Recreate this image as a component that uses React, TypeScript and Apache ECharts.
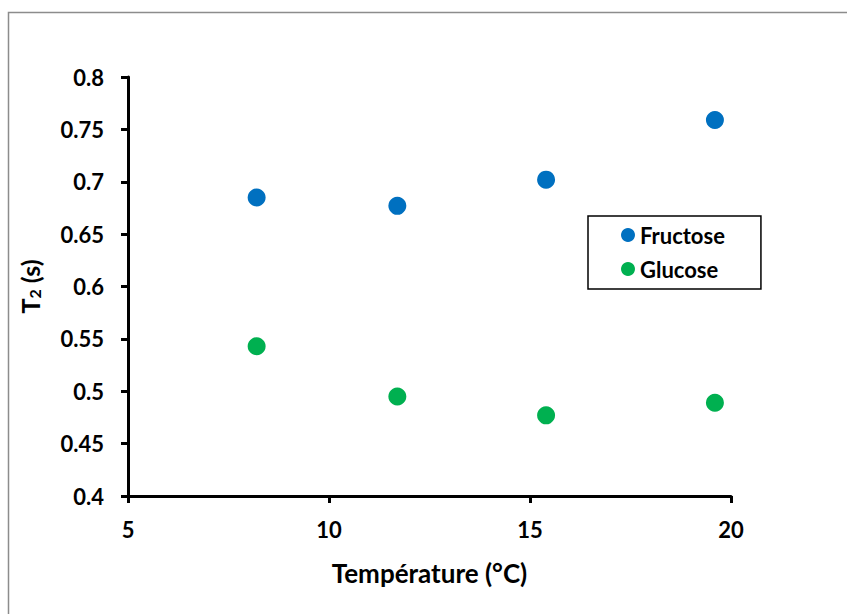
import React, { useEffect, useRef } from "react";
import * as echarts from "echarts";

const temperatures = [8.2, 11.7, 15.4, 19.6];
const fructoseT2 = [0.685, 0.677, 0.702, 0.759];
const glucoseT2 = [0.543, 0.495, 0.477, 0.489];
const seriesNames = ["Fructose", "Glucose"];
const seriesColors = ["#0070C0", "#00B050"];

const FONT = "Lato, 'Noto Sans', sans-serif";

export default function App() {
  const ref = useRef<HTMLDivElement>(null);
  useEffect(() => {
    if (!ref.current) return;
    const chart = echarts.init(ref.current, null, { renderer: "svg" });
    const mk = (vals: number[]) => temperatures.map((t, i) => [t, vals[i]]);
    chart.setOption({
      animation: false,
      backgroundColor: "#ffffff",
      textStyle: { fontFamily: FONT },
      grid: { left: 128, top: 77, width: 603, height: 419, containLabel: false },
      graphic: [
        {
          type: "rect",
          shape: { x: 8.5, y: 12.5, width: 900, height: 700 },
          style: { fill: "none", stroke: "#8c8c8c", lineWidth: 1.5 },
          silent: true,
        },
      ],
      legend: {
        left: 588,
        top: 216,
        orient: "vertical",
        itemGap: 12,
        padding: [8, 36, 9, 33],
        borderColor: "#000",
        borderWidth: 1.5,
        icon: "circle",
        itemWidth: 14,
        itemHeight: 14,
        textStyle: { fontFamily: FONT, fontWeight: "bold", fontSize: 22, color: "#000" },
        data: seriesNames,
      },
      xAxis: {
        type: "value",
        min: 5,
        max: 20,
        interval: 5,
        name: "Température (°C)",
        nameLocation: "middle",
        nameGap: 64,
        nameTextStyle: { fontFamily: FONT, fontWeight: "bold", fontSize: 26, color: "#000" },
        axisLine: { show: true, lineStyle: { color: "#000", width: 3 } },
        axisTick: { show: true, inside: false, length: 7, lineStyle: { color: "#000", width: 3 } },
        axisLabel: { fontFamily: FONT, fontWeight: "bold", fontSize: 22, color: "#000", margin: 22 },
        splitLine: { show: false },
      },
      yAxis: {
        type: "value",
        min: 0.4,
        max: 0.8,
        interval: 0.05,
        name: "{t|T}{s|2}{t| (s)}",
        nameLocation: "middle",
        nameGap: 86,
        nameRotate: 90,
        nameTextStyle: {
          rich: {
            t: { fontFamily: FONT, fontWeight: "bold", fontSize: 25, color: "#000" },
            s: { fontFamily: FONT, fontWeight: "bold", fontSize: 16, color: "#000", padding: [9, 0, 0, 0] },
          },
        },
        axisLine: { show: true, lineStyle: { color: "#000", width: 3 } },
        axisTick: { show: true, inside: false, length: 7, lineStyle: { color: "#000", width: 3 } },
        axisLabel: {
          fontFamily: FONT,
          fontWeight: "bold",
          fontSize: 22,
          color: "#000",
          margin: 24,
          formatter: (v: number) => String(parseFloat(v.toFixed(2))),
        },
        splitLine: { show: false },
      },
      series: [
        {
          name: seriesNames[0],
          type: "scatter",
          symbolSize: 18,
          itemStyle: { color: seriesColors[0], opacity: 1 },
          data: mk(fructoseT2),
        },
        {
          name: seriesNames[1],
          type: "scatter",
          symbolSize: 18,
          itemStyle: { color: seriesColors[1], opacity: 1 },
          data: mk(glucoseT2),
        },
      ],
    });
    return () => chart.dispose();
  }, []);
  return (
    <div
      ref={ref}
      style={{ position: "fixed", left: 0, top: 0, width: 847, height: 614 }}
    />
  );
}
